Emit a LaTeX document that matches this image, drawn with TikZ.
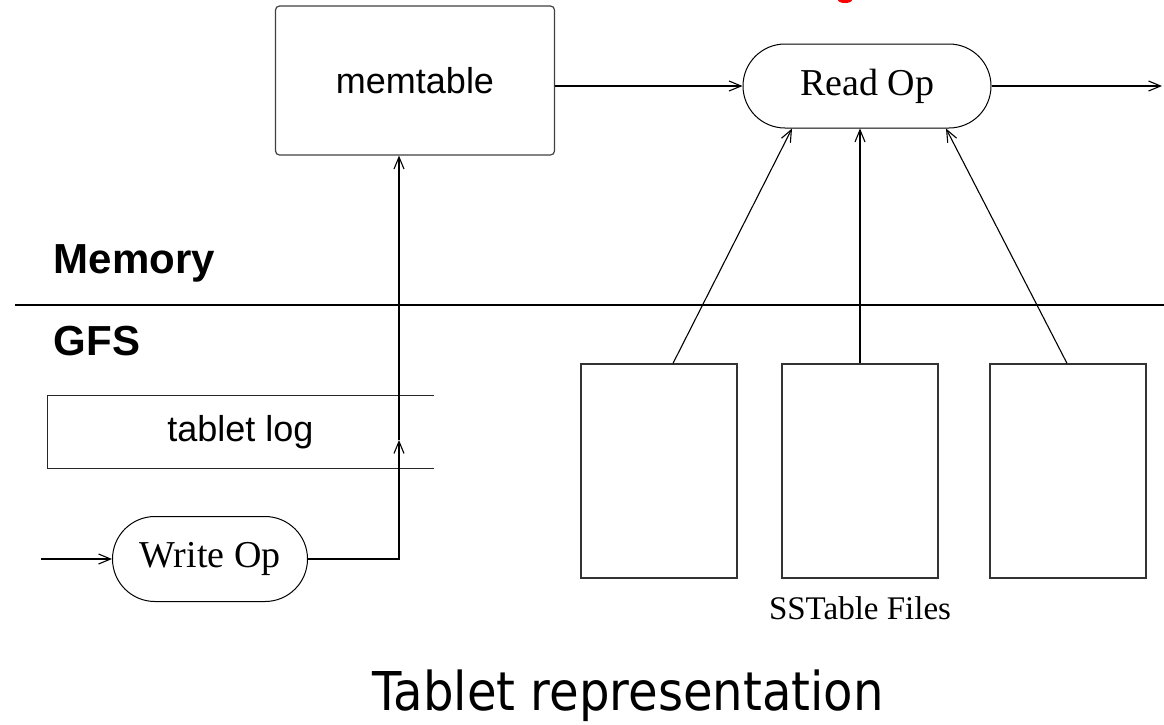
\documentclass[tikz,border=0pt]{standalone}
\usepackage{fontspec}
\setmainfont{Liberation Serif}
\setsansfont{Liberation Sans}
\newfontfamily\titlefont[FakeStretch=0.9]{DejaVu Sans}
\usepackage{tikz}
\usetikzlibrary{arrows.meta,shapes.misc,positioning,calc}

\begin{document}
\begin{tikzpicture}[x=1pt, y=-1pt, ->, >={Straight Barb[length=12pt,width=10pt]},
	line width=1.1pt, node distance=20pt]

	\tikzstyle{op}=[rounded rectangle, draw, line width=1pt, inner sep=0pt,
		font=\fontsize{38}{40}\selectfont]
	\tikzstyle{sanstxt}=[font=\sffamily\fontsize{36}{38}\selectfont]
	\tikzstyle{layer}=[font=\sffamily\bfseries\fontsize{42}{44}\selectfont, anchor=base west]
	\tikzstyle{sst}=[rectangle, draw=black!80, line width=1.3pt, minimum width=156pt, minimum height=214pt]
	\useasboundingbox (0,0) rectangle (1164,724);

	% bit of the red heading above
	\fill[red] (845,0) ellipse [x radius=7pt, y radius=3pt];

	% memory side
	\node[sanstxt, draw=black!75, rounded corners=4pt, line width=1.2pt,
		minimum width=279pt, minimum height=149pt] (mem) at (415,80.5) {memtable};
	\node[op, minimum width=248pt, minimum height=84pt] (read) at (867,86) {Read Op};
	\coordinate (out) at (1162,86);

	% layers
	\node[layer] (memlbl) at (50,273) {Memory};
	\node[layer] (gfslbl) at (50,355) {GFS};
	\draw[-, line width=2.4pt] (15,305) -- (1164,305);

	% GFS side
	\node[sanstxt, minimum width=385pt, minimum height=72pt] (log) at (240.5,432) {tablet log};
	\draw[-, black!85] (log.north east) -- (log.north west) -- (log.south west) -- (log.south east);
	\node[op, minimum width=195pt, minimum height=85pt] (write) at (210,559) {Write Op};
	\coordinate (in) at (41,559);
	\coordinate (logpt) at (399,440);

	\foreach \x/\n in {659/f1, 860/f2, 1068/f3}
		\node[sst] (\n) at (\x,471) {};
	\node[below=14pt of f2, font=\fontsize{33}{35}\selectfont] (sstlbl) {SSTable Files};

	\node[anchor=base, font=\titlefont\fontsize{53.5}{56}\selectfont] (title) at (628,710) {Tablet representation};

	% write path
	\draw (in) -- (write.west);
	\draw (write.east) -| (logpt);
	\draw (logpt) -- (logpt |- mem.south);

	% read path
	\draw (read.west -| mem.east) -- (read.west);
	\draw (read.east) -- (out);
	\draw ($(f1.north)+(14,0)$) -- ($(read.south)+(-75,0)$);
	\draw (f2.north) -- (f2.north |- read.south);
	\draw ($(f3.north)+(-1,0)$) -- ($(read.south)+(79,0)$);

\end{tikzpicture}
\end{document}
